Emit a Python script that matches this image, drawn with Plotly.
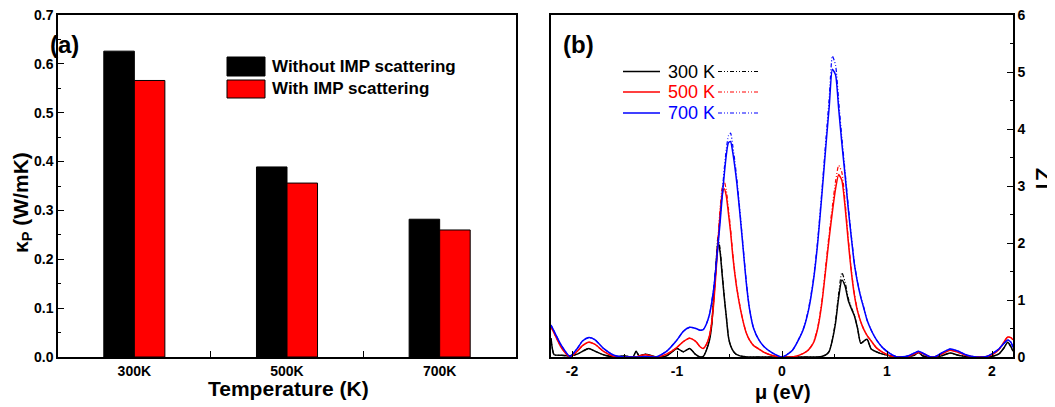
import plotly.graph_objects as go

# The page body has an 8px margin, so the figure is 8px smaller and all
# reference pixel positions are shifted by 8px.
OFF = 8
W, H = 1055 - OFF, 407 - OFF

# ---------------- Panel (a) data ----------------
temps = ["300K", "500K", "700K"]
kp_without = [0.626, 0.389, 0.282]
kp_with = [0.566, 0.356, 0.260]

# ---------------- Panel (b) data ----------------
mu = [-2.2, -2.17, -2.1, -2.02, -1.95, -1.9, -1.84, -1.78, -1.7, -1.6, -1.5, -1.42, -1.39, -1.36, -1.3, -1.2, -1.1, -1.0, -0.94, -0.88, -0.82,
      -0.78, -0.75, -0.72, -0.69, -0.67, -0.65, -0.63, -0.61, -0.59, -0.57, -0.55, -0.53, -0.51, -0.49, -0.47, -0.45, -0.43, -0.40, -0.37, -0.34, -0.31, -0.27, -0.22, -0.17, -0.1,
      0.0, 0.1, 0.2, 0.25, 0.3, 0.34, 0.38, 0.42, 0.45, 0.48, 0.51, 0.54, 0.57, 0.6, 0.63, 0.66, 0.69, 0.72, 0.75, 0.78, 0.81, 0.85, 0.9, 0.96, 1.03,
      1.1, 1.2, 1.26, 1.3, 1.34, 1.4, 1.45, 1.52, 1.6, 1.68, 1.75, 1.85, 1.95, 2.02, 2.07, 2.11, 2.15, 2.18, 2.2]

zt_700 = [0.56, 0.45, 0.2, 0.01, 0.15, 0.28, 0.34, 0.3, 0.15, 0.03, 0.0, 0.0, 0.0, 0.0, 0.01, 0.0, 0.1, 0.3, 0.45, 0.52, 0.5,
          0.47, 0.48, 0.58, 0.75, 0.95, 1.2, 1.55, 1.95, 2.35, 2.8, 3.2, 3.55, 3.76, 3.78, 3.6, 3.35, 3.05, 2.5, 1.9, 1.3, 0.85, 0.5, 0.3, 0.18, 0.08,
          0.0, 0.12, 0.47, 0.8, 1.35, 2.0, 2.85, 3.75, 4.4, 5.05, 4.95, 4.35, 3.75, 3.2, 2.62, 2.1, 1.62, 1.3, 1.05, 0.85, 0.65, 0.47, 0.3, 0.16, 0.06,
          0.0, 0.02, 0.07, 0.1, 0.07, 0.01, 0.0, 0.07, 0.14, 0.1, 0.04, 0.0, 0.01, 0.08, 0.15, 0.23, 0.3, 0.26, 0.17]
zt_700_imp = [0.56, 0.45, 0.2, 0.01, 0.15, 0.28, 0.34, 0.3, 0.15, 0.03, 0.0, 0.0, 0.0, 0.0, 0.01, 0.0, 0.1, 0.3, 0.45, 0.52, 0.5,
              0.47, 0.48, 0.58, 0.75, 0.96, 1.22, 1.58, 2.0, 2.42, 2.88, 3.3, 3.65, 3.88, 3.93, 3.72, 3.45, 3.12, 2.55, 1.93, 1.32, 0.86, 0.5, 0.3, 0.18, 0.08,
              0.0, 0.12, 0.48, 0.82, 1.38, 2.05, 2.92, 3.86, 4.55, 5.28, 5.12, 4.48, 3.85, 3.27, 2.67, 2.13, 1.64, 1.31, 1.06, 0.86, 0.65, 0.47, 0.3, 0.16, 0.06,
              0.0, 0.02, 0.07, 0.1, 0.07, 0.01, 0.0, 0.07, 0.14, 0.1, 0.04, 0.0, 0.01, 0.08, 0.15, 0.23, 0.3, 0.26, 0.17]

zt_500 = [0.53, 0.42, 0.16, 0.0, 0.1, 0.2, 0.26, 0.22, 0.1, 0.01, 0.0, 0.0, 0.0, 0.02, 0.04, 0.0, 0.05, 0.17, 0.27, 0.33, 0.27,
          0.18, 0.15, 0.22, 0.38, 0.6, 0.95, 1.45, 2.0, 2.5, 2.85, 2.95, 2.82, 2.52, 2.2, 1.8, 1.47, 1.2, 0.88, 0.62, 0.42, 0.3, 0.2, 0.14, 0.08, 0.03,
          0.0, 0.0, 0.06, 0.12, 0.25, 0.5, 0.95, 1.6, 2.1, 2.55, 2.95, 3.2, 3.1, 2.65, 2.05, 1.5, 1.08, 0.8, 0.62, 0.48, 0.38, 0.28, 0.16, 0.08, 0.02,
          0.0, 0.01, 0.05, 0.08, 0.06, 0.01, 0.0, 0.05, 0.12, 0.08, 0.03, 0.0, 0.01, 0.06, 0.14, 0.25, 0.35, 0.34, 0.3]
zt_500_imp = [0.53, 0.42, 0.16, 0.0, 0.1, 0.2, 0.26, 0.22, 0.1, 0.01, 0.0, 0.0, 0.0, 0.02, 0.04, 0.0, 0.05, 0.17, 0.27, 0.33, 0.27,
              0.18, 0.15, 0.22, 0.39, 0.62, 0.98, 1.5, 2.07, 2.6, 2.97, 3.08, 2.92, 2.6, 2.25, 1.83, 1.49, 1.21, 0.89, 0.62, 0.42, 0.3, 0.2, 0.14, 0.08, 0.03,
              0.0, 0.0, 0.06, 0.12, 0.26, 0.52, 0.98, 1.66, 2.18, 2.65, 3.08, 3.36, 3.24, 2.74, 2.1, 1.53, 1.1, 0.81, 0.62, 0.48, 0.38, 0.28, 0.16, 0.08, 0.02,
              0.0, 0.01, 0.05, 0.08, 0.06, 0.01, 0.0, 0.05, 0.12, 0.08, 0.03, 0.0, 0.01, 0.06, 0.14, 0.25, 0.35, 0.34, 0.3]

zt_300 = [0.33, 0.04, 0.03, 0.02, 0.05, 0.1, 0.15, 0.1, 0.04, 0.0, 0.02, 0.0, 0.1, 0.02, 0.05, 0.0, 0.02, 0.15, 0.09, 0.15, 0.04,
          0.0, 0.01, 0.12, 0.3, 0.55, 1.05, 1.55, 2.02, 1.85, 1.45, 1.05, 0.7, 0.35, 0.2, 0.12, 0.07, 0.04, 0.02, 0.01, 0.0, 0.0, 0.0, 0.0, 0.0, 0.0,
          0.0, 0.0, 0.0, 0.0, 0.0, 0.0, 0.01, 0.04, 0.1, 0.3, 0.6, 1.05, 1.35, 1.25, 1.0, 0.85, 0.72, 0.5, 0.24, 0.28, 0.31, 0.14, 0.09, 0.05, 0.02,
          0.0, 0.01, 0.03, 0.08, 0.02, 0.0, 0.0, 0.02, 0.07, 0.03, 0.01, 0.0, 0.0, 0.02, 0.06, 0.15, 0.26, 0.18, 0.1]
zt_300_imp = [0.33, 0.04, 0.03, 0.02, 0.05, 0.1, 0.15, 0.1, 0.04, 0.0, 0.02, 0.0, 0.1, 0.02, 0.05, 0.0, 0.02, 0.15, 0.09, 0.15, 0.04,
              0.0, 0.01, 0.12, 0.31, 0.57, 1.08, 1.6, 2.1, 1.9, 1.48, 1.07, 0.71, 0.35, 0.2, 0.12, 0.07, 0.04, 0.02, 0.01, 0.0, 0.0, 0.0, 0.0, 0.0, 0.0,
              0.0, 0.0, 0.0, 0.0, 0.0, 0.0, 0.01, 0.04, 0.1, 0.31, 0.63, 1.12, 1.48, 1.32, 1.04, 0.87, 0.73, 0.5, 0.24, 0.28, 0.31, 0.14, 0.09, 0.05, 0.02,
              0.0, 0.01, 0.03, 0.08, 0.02, 0.0, 0.0, 0.02, 0.07, 0.03, 0.01, 0.0, 0.0, 0.02, 0.06, 0.15, 0.26, 0.18, 0.1]

legend_b = ["300 K", "500 K", "700 K"]
colors_b = ["#000000", "#ff0000", "#0000ff"]

FONT = "Liberation Sans, Arial, sans-serif"
DOT = "4px,2px,1px,2px,1px,2px"


def px(x):
    return (x - OFF) / W


def py(y):
    return 1 - (y - OFF) / H


fig = go.Figure()

# Panel (a) bars
fig.add_trace(go.Bar(x=temps, y=kp_without, name="Without IMP scattering",
                     marker=dict(color="#000000", line=dict(color="#000000", width=1)),
                     xaxis="x", yaxis="y", showlegend=False))
fig.add_trace(go.Bar(x=temps, y=kp_with, name="With IMP scattering",
                     marker=dict(color="#ff0000", line=dict(color="#000000", width=1)),
                     xaxis="x", yaxis="y", showlegend=False))

# Panel (b) curves
for lab, col, solid, dotted in zip(legend_b, colors_b,
                                   [zt_300, zt_500, zt_700],
                                   [zt_300_imp, zt_500_imp, zt_700_imp]):
    fig.add_trace(go.Scatter(x=mu, y=dotted, mode="lines", name=lab + " (dotted)",
                             line=dict(color=col, width=1.2, dash=DOT, shape="spline", smoothing=0.6),
                             xaxis="x2", yaxis="y2", showlegend=False))
    fig.add_trace(go.Scatter(x=mu, y=solid, mode="lines", name=lab,
                             line=dict(color=col, width=1.5, shape="spline", smoothing=0.6),
                             xaxis="x2", yaxis="y2", showlegend=False))

tickfont = dict(family=FONT, size=14, color="black", weight="bold")
axcommon = dict(showline=True, linecolor="black", linewidth=1.5, mirror=True,
                ticks="inside", tickcolor="black", tickwidth=1.2, ticklen=6,
                showgrid=False, zeroline=False, tickfont=tickfont, automargin=False,
                ticklabeloverflow="allow")

fig.update_layout(
    template="none",
    width=W, height=H, autosize=False,
    margin=dict(l=0, r=0, t=0, b=0, pad=0),
    paper_bgcolor="white", plot_bgcolor="white",
    showlegend=False,
    barmode="group", bargap=0.6, bargroupgap=0.0,
    xaxis=dict(domain=[px(58), px(516)], anchor="y", type="category",
               tickson="boundaries", **axcommon),
    yaxis=dict(domain=[py(357), py(15)], anchor="x", range=[0, 0.7], dtick=0.1,
               tickformat=".1f",
               minor=dict(ticks="inside", dtick=0.05, ticklen=3, tickcolor="black", tickwidth=1.2),
               **axcommon),
    xaxis2=dict(domain=[px(551), px(1013)], anchor="y2", range=[-2.2, 2.2],
                tickvals=[-2, -1, 0, 1, 2], ticktext=["-2", "-1", "0", "1", "2"],
                minor=dict(ticks="inside", tickvals=[-1.5, -0.5, 0.5, 1.5], ticklen=3, tickcolor="black", tickwidth=1.2),
                **axcommon),
    yaxis2=dict(domain=[py(357), py(15)], anchor="x2", side="right", range=[0, 6], dtick=1,
                minor=dict(ticks="inside", dtick=0.5, ticklen=3, tickcolor="black", tickwidth=1.2),
                **axcommon),
)

ann = []
bold = dict(family=FONT, color="black", weight="bold")
ann.append(dict(text="(a)", x=px(64), y=py(44), font=dict(size=24, **bold), xanchor="center", yanchor="middle"))
ann.append(dict(text="(b)", x=px(578), y=py(44), font=dict(size=24, **bold), xanchor="center", yanchor="middle"))
ann.append(dict(text="Temperature (K)", x=px(288), y=py(388), font=dict(size=21, **bold), xanchor="center", yanchor="middle"))
ann.append(dict(text="κ<sub>P</sub> (W/mK)", x=px(22), y=py(203), textangle=-90, font=dict(size=21, **bold), xanchor="center", yanchor="middle"))
ann.append(dict(text="μ (eV)", x=px(783), y=py(392), font=dict(size=20, **bold), xanchor="center", yanchor="middle"))
ann.append(dict(text="ZT", x=px(1043), y=py(180), textangle=90, font=dict(size=20, **bold), xanchor="center", yanchor="middle"))

# Legend (a)
shapes = []
leg_a = [("Without IMP scattering", "#000000", 57, 76), ("With IMP scattering", "#ff0000", 80, 98)]
for txt, col, y0, y1 in leg_a:
    shapes.append(dict(type="rect", xref="paper", yref="paper", x0=px(227), x1=px(265), y0=py(y1), y1=py(y0),
                       fillcolor=col, line=dict(color="#000000", width=1)))
    ann.append(dict(text=txt, x=px(270), y=py((y0 + y1) / 2), font=dict(size=17, **bold), xanchor="left", yanchor="middle"))

# Legend (b)
for i, (lab, col) in enumerate(zip(legend_b, colors_b)):
    yy = [71.5, 92, 113][i]
    shapes.append(dict(type="line", xref="paper", yref="paper", x0=px(623), x1=px(660), y0=py(yy), y1=py(yy),
                       line=dict(color=col, width=1.5)))
    shapes.append(dict(type="line", xref="paper", yref="paper", x0=px(718), x1=px(758), y0=py(yy), y1=py(yy),
                       line=dict(color=col, width=1.2, dash=DOT)))
    ann.append(dict(text=lab, x=px(666), y=py(yy), font=dict(size=18, family=FONT, color=col), xanchor="left", yanchor="middle"))

for a in ann:
    a.update(xref="paper", yref="paper", showarrow=False)

fig.update_layout(annotations=ann, shapes=shapes)

fig.write_html("out.html")
